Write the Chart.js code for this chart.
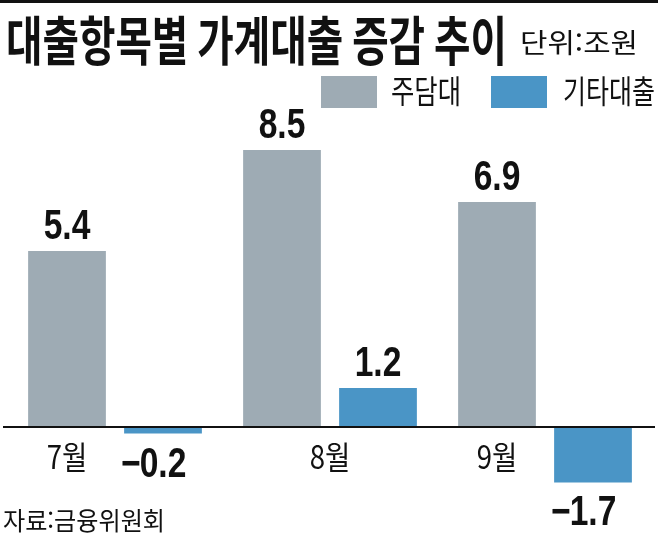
<!DOCTYPE html>
<html lang="ko">
<head>
<meta charset="utf-8">
<script src="https://cdn.jsdelivr.net/npm/chart.js@4"></script>
<style>
  html, body { margin: 0; padding: 0; background: #fff; }
  #wrap { width: 658px; height: 536px; }
</style>
</head>
<body>
<div id="wrap"><canvas id="loanChart" width="658" height="536"></canvas></div>
<script>
/* ===== 데이터 ===== */
const months = ['7월', '8월', '9월'];
const mortgage = [5.4, 8.5, 6.9];      // 주담대
const otherLoans = [-0.2, 1.2, -1.7];  // 기타대출
const seriesNames = ['주담대', '기타대출'];
const titleText = '대출항목별 가계대출 증감 추이';
const unitText = '단위:조원';
const sourceText = '자료:금융위원회';

const GRAY = '#9eabb4';
const BLUE = '#4a95c6';
const KR = '"Noto Sans CJK KR", "Noto Sans", sans-serif';
const NUM = '"Liberation Sans", Arial, sans-serif';

/* 가로로 눌러 쓰기 (폭 지정 또는 비율 지정) */
function drawText(ctx, txt, x, y, font, opt) {
  ctx.save();
  ctx.font = font;
  ctx.textAlign = opt.align || 'left';
  ctx.textBaseline = opt.base || 'alphabetic';
  const sx = opt.width ? opt.width / ctx.measureText(txt).width : (opt.sx || 1);
  ctx.translate(x, y);
  ctx.scale(sx, 1);
  ctx.fillStyle = opt.color || '#111';
  ctx.fillText(txt, 0, 0);
  ctx.restore();
}

/* 값 라벨: 숫자는 막대 중앙, 마이너스는 왼쪽에 붙임 */
function drawValue(ctx, v, x, y) {
  const sx = 0.8;
  const digits = Math.abs(v).toFixed(1);
  ctx.save();
  ctx.font = `bold 42px ${NUM}`;
  const w = ctx.measureText(digits).width * sx;
  ctx.restore();
  drawText(ctx, digits, x, y, `bold 42px ${NUM}`, { align: 'center', sx });
  if (v < 0) drawText(ctx, '\u2212', x - w / 2 + 1, y, `bold 42px ${NUM}`, { align: 'right', sx });
}

const decor = {
  id: 'decor',
  afterDatasetsDraw(chart) {
    const { ctx } = chart;
    const y0 = chart.scales.y.getPixelForValue(0);

    // 상단 굵은 선
    ctx.fillStyle = '#111';
    ctx.fillRect(0, 0, 658, 3);

    // 기준선
    ctx.fillRect(3, Math.round(y0) - 1, 652, 2);

    // 제목 / 단위
    drawText(ctx, titleText, 6, 41, `bold 53px ${KR}`, { base: 'middle', width: 501 });
    drawText(ctx, unitText, 520, 43, `27px ${KR}`, { base: 'middle', width: 118 });

    // 범례
    const lg = [
      { box: 321, tx: 391, w: 70, c: GRAY },
      { box: 491, tx: 563, w: 92, c: BLUE },
    ];
    lg.forEach((l, i) => {
      ctx.fillStyle = l.c;
      ctx.fillRect(l.box, 76, 56, 32);
      drawText(ctx, seriesNames[i], l.tx, 91, `32px ${KR}`, { base: 'middle', width: l.w });
    });

    // 값 라벨
    chart.data.datasets.forEach((ds, di) => {
      chart.getDatasetMeta(di).data.forEach((bar, i) => {
        const v = ds.data[i];
        const y = v >= 0 ? bar.y - 12 : bar.y + 12 + 31;
        drawValue(ctx, v, bar.x, y);
      });
    });

    // 월 라벨: 기타대출이 음수면 주담대 막대 아래, 아니면 묶음 가운데
    const g = chart.getDatasetMeta(0).data;
    const b = chart.getDatasetMeta(1).data;
    months.forEach((m, i) => {
      const x = otherLoans[i] < 0 ? g[i].x : (g[i].x + b[i].x) / 2;
      drawText(ctx, m, x, 457, `32px ${KR}`, { align: 'center', base: 'middle', sx: 0.86 });
    });

    // 출처
    drawText(ctx, sourceText, 3, 520, `25px ${KR}`, { base: 'middle', width: 162 });
  },
};

new Chart(document.getElementById('loanChart'), {
  type: 'bar',
  data: {
    labels: months,
    datasets: [
      { label: seriesNames[0], data: mortgage, backgroundColor: GRAY },
      { label: seriesNames[1], data: otherLoans, backgroundColor: BLUE },
    ],
  },
  options: {
    responsive: false,
    animation: false,
    events: [],
    layout: { padding: { left: 7.5, right: 5.5, top: 107.5, bottom: 24.2 } },
    datasets: { bar: { categoryPercentage: 0.893, barPercentage: 0.81 } },
    plugins: { legend: { display: false }, tooltip: { enabled: false } },
    scales: {
      x: { display: false },
      y: { display: false, min: -2.6, max: 9.8 },
    },
  },
  plugins: [decor],
});
</script>
</body>
</html>
